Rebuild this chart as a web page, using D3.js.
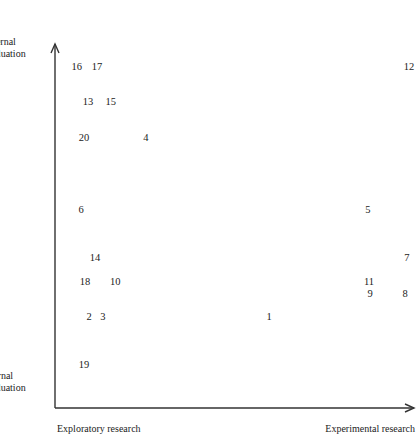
<!DOCTYPE html>
<head>
<meta charset="utf-8">
<style>
body { margin: 0; background: #fff; }
text { font-family: "Liberation Serif", "Times New Roman", serif; fill: #222; }
</style>
</head>
<body>
<script src="https://d3js.org/d3.v7.min.js"></script>
<script>
// project numbers and their position on the two dimensions (0-100)
var ids = ["1","2","3","4","5","6","7","8","9","10","11","12","13","14","15","16","17","18","19","20"];
var research = [59.8, 9.5, 13.4, 25.4, 87.4, 7.3, 98.3, 97.8, 88.0, 16.8, 87.7, 98.9, 9.2, 11.2, 15.6, 6.1, 11.7, 8.4, 8.1, 8.1];
var evaluation = [25.3, 25.3, 25.3, 74.7, 54.8, 54.8, 41.6, 31.7, 31.7, 35.0, 35.0, 94.2, 84.6, 41.6, 84.6, 94.2, 94.2, 35.0, 12.1, 74.7];
var xEnds = ["Exploratory research", "Experimental research"];
var yEnds = [["External", "evaluation"], ["Internal", "evaluation"]];

(function() {
	var W = 418, H = 439,
		x0 = 55, x1 = 413,
		y0 = 408, y1 = 45;

	var sx = d3.scaleLinear().domain([0, 100]).range([x0, x1]);
	var sy = d3.scaleLinear().domain([0, 100]).range([y0, y1]);

	var svg = d3.select("body").append("svg")
		.attr("width", W)
		.attr("height", H);

	var axis = svg.append("g")
		.attr("stroke", "#333")
		.attr("stroke-width", 1.4)
		.attr("fill", "none");

	// axes with open arrow heads
	axis.append("path").attr("d", "M" + x0 + "," + y0 + "V" + (y1 - 1));
	axis.append("path").attr("d", "M" + x0 + "," + y0 + "H" + (x1 + 1));
	axis.append("path").attr("d", "M" + (x0 - 4) + "," + (y1 + 8) + "L" + x0 + "," + (y1 - 1) + "L" + (x0 + 4) + "," + (y1 + 8));
	axis.append("path").attr("d", "M" + (x1 - 8) + "," + (y0 - 4) + "L" + (x1 + 1) + "," + y0 + "L" + (x1 - 8) + "," + (y0 + 4));

	// points are drawn as their numbers
	svg.append("g").selectAll("text")
		.data(ids)
		.join("text")
		.attr("x", function(d, i) { return sx(research[i]); })
		.attr("y", function(d, i) { return sy(evaluation[i]); })
		.attr("dy", "0.35em")
		.attr("text-anchor", "middle")
		.attr("font-size", 10.5)
		.text(function(d) { return d; });

	// x axis end labels
	svg.append("text").attr("x", 57).attr("y", 432)
		.attr("font-size", 10).text(xEnds[0]);
	svg.append("text").attr("x", 415).attr("y", 432)
		.attr("text-anchor", "end")
		.attr("font-size", 10).text(xEnds[1]);

	// y axis end labels (cut by the left border)
	[[45, 57], [379, 391]].forEach(function(ys, k) {
		var t = svg.append("text").attr("font-size", 10);
		t.append("tspan").attr("x", -18).attr("y", ys[0]).text(yEnds[k][0]);
		t.append("tspan").attr("x", -16).attr("y", ys[1]).text(yEnds[k][1]);
	});
})();
</script>
</body>
